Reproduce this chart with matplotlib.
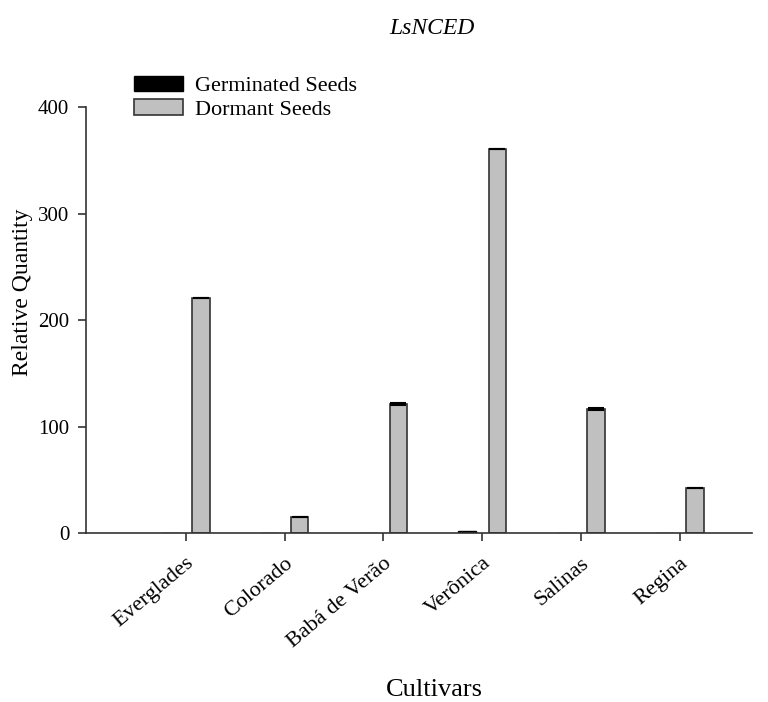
import matplotlib
matplotlib.use("Agg")
import matplotlib.pyplot as plt
import numpy as np

cultivars = ["Everglades", "Colorado", "Babá de Verão", "Verônica", "Salinas", "Regina"]
germinated = [0.3, 0.2, 0.3, 1.5, 0.3, 0.2]
dormant = [220.5, 15.0, 121.5, 361.0, 116.5, 42.5]
dormant_err = [0.0, 0.0, 1.0, 0.0, 1.0, 0.0]
yticks = [0, 100, 200, 300, 400]

plt.rcParams['font.family'] = ['Liberation Serif', 'DejaVu Serif']

fig = plt.figure(figsize=(7.68, 7.02), dpi=100)
ax = fig.add_axes([86/768, 1-533/702, (752-86)/768, (533-107)/702])

x = np.arange(len(cultivars))
w = 0.177
off = 0.152
ax.bar(x - off, germinated, w, color='black', edgecolor='black', linewidth=1.0, label='Germinated Seeds')
ax.bar(x + off, dormant, w, color='#c0c0c0', edgecolor='#333333', linewidth=1.2, label='Dormant Seeds')
ax.errorbar(x + off, dormant, yerr=dormant_err, fmt='none', ecolor='black', capsize=6, elinewidth=1.2, capthick=1.5)

ax.set_xlim(-1.01, 5.73)
ax.set_ylim(0, 400)
ax.set_yticks(yticks)
ax.set_yticklabels([str(v) for v in yticks], fontsize=15)
ax.set_xticks(x)
ax.set_xticklabels(cultivars, rotation=40, ha='right', rotation_mode='anchor', va='top', fontsize=16)

for s in ['top', 'right']:
    ax.spines[s].set_visible(False)
for s in ['left', 'bottom']:
    ax.spines[s].set_color('#333333')
    ax.spines[s].set_linewidth(1.2)
ax.tick_params(direction='out', length=6, width=1.2, color='#333333')
ax.tick_params(axis='y', pad=6)
ax.tick_params(axis='x', pad=9)

ax.set_ylabel('Relative Quantity', fontsize=17)
ax.yaxis.set_label_coords(-0.08, 0.565)
fig.text(434/768, 1-690/702, 'Cultivars', fontsize=19, ha='center', va='center')
fig.text(432/768, 1-28/702, 'LsNCED', fontsize=17, style='italic', ha='center', va='center')

fig.legend(loc='upper left', bbox_to_anchor=(134/768, 1-76/702), frameon=False,
           fontsize=16, handlelength=2.2, handleheight=0.68, handletextpad=0.55,
           borderpad=0, borderaxespad=0, labelspacing=0.13)

fig.savefig('out.png', dpi=100)
